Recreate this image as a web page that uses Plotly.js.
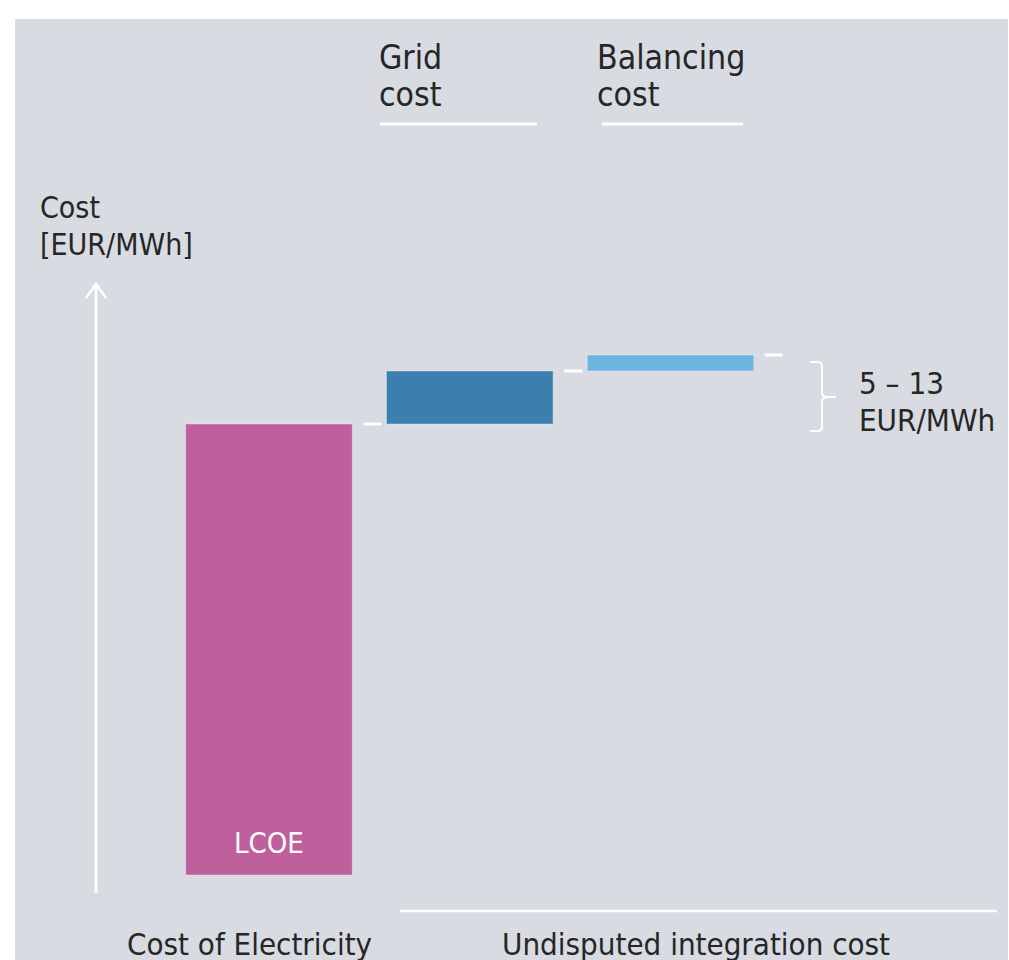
<!DOCTYPE html>
<html>
<head>
<meta charset="utf-8">
<script src="https://cdn.plot.ly/plotly-3.0.1.min.js"></script>
<style>
  html, body { margin: 0; padding: 0; background: #ffffff; }
  #chart { width: 1009px; height: 960px; }
</style>
</head>
<body>
<div id="chart"></div>
<script>
// Cost build-up: generation cost plus the integration cost components
const categories = ['LCOE', 'Grid cost', 'Balancing cost'];
const costValues = [85, 10, 3];            // EUR/MWh
const barColors = ['#bf5f9b', '#3b7fae', '#6cb5e0'];
const rangeLabelLines = ['5 \u2013 13', 'EUR/MWh'];
const yAxisLabelLines = ['Cost', '[EUR/MWh]'];
const groupLabels = ['Cost of Electricity', 'Undisputed integration cost'];
const componentLabelLines = [['Grid', 'cost'], ['Balancing', 'cost']];

// Stacked (floating) bars: each bar starts where the previous one ends
const bases = [];
let running = 0;
costValues.forEach(v => { bases.push(running); running += v; });
const tops = costValues.map((v, i) => bases[i] + v);

const W = 1009, H = 960;
const M = { l: 15, t: 19, r: 1, b: 0 };
const plotW = W - M.l - M.r, plotH = H - M.t - M.b;
// pixel -> paper helpers for the decorative elements
const px = x => (x - M.l) / plotW;
const py = y => 1 - (y - M.t) / plotH;

const FONT = 'DejaVu Sans Condensed, DejaVu Sans, sans-serif';
const TXT = '#262626';
const WHITE = '#ffffff';
const BAR_W = 0.83;

const bars = {
  type: 'bar',
  x: categories,
  y: costValues,
  base: bases,
  width: BAR_W,
  marker: { color: barColors, line: { color: 'rgba(255,255,255,0.35)', width: 1 } },
  hoverinfo: 'x+y',
  showlegend: false
};

const shapes = [];
const annotations = [];

// short white level markers to the right of each bar
tops.forEach((t, i) => {
  const x0 = i + BAR_W / 2 + 0.055;
  shapes.push({ type: 'line', xref: 'x', yref: 'y', x0: x0, x1: x0 + 0.09, y0: t, y1: t,
    line: { color: WHITE, width: 3 } });
});

// vertical axis arrow
shapes.push({ type: 'line', xref: 'paper', yref: 'paper', x0: px(96), x1: px(96), y0: py(893), y1: py(284),
  line: { color: WHITE, width: 3 } });
shapes.push({ type: 'path', xref: 'paper', yref: 'paper',
  path: `M ${px(86)},${py(298)} L ${px(96)},${py(284)} L ${px(106)},${py(298)}`,
  line: { color: WHITE, width: 2.5 } });

// underlines below the component headers
shapes.push({ type: 'line', xref: 'paper', yref: 'paper', x0: px(380), x1: px(537), y0: py(124), y1: py(124),
  line: { color: WHITE, width: 3 } });
shapes.push({ type: 'line', xref: 'paper', yref: 'paper', x0: px(602), x1: px(743), y0: py(124), y1: py(124),
  line: { color: WHITE, width: 3 } });

// baseline under the integration-cost group
shapes.push({ type: 'line', xref: 'paper', yref: 'paper', x0: px(400), x1: px(997), y0: py(911), y1: py(911),
  line: { color: WHITE, width: 2.5 } });

// curly brace spanning the integration cost
const bx = 822, btop = 362, bbot = 431, bmid = 397;
shapes.push({ type: 'path', xref: 'paper', yref: 'paper',
  path: `M ${px(810)},${py(btop)} L ${px(bx - 4)},${py(btop)} Q ${px(bx)},${py(btop)} ${px(bx)},${py(btop + 5)}` +
        ` L ${px(bx)},${py(bmid - 5)} Q ${px(bx)},${py(bmid)} ${px(bx + 6)},${py(bmid)} L ${px(bx + 14)},${py(bmid)}` +
        ` M ${px(bx + 6)},${py(bmid)} Q ${px(bx)},${py(bmid)} ${px(bx)},${py(bmid + 5)}` +
        ` L ${px(bx)},${py(bbot - 5)} Q ${px(bx)},${py(bbot)} ${px(bx - 4)},${py(bbot)} L ${px(810)},${py(bbot)}`,
  line: { color: WHITE, width: 2 } });

const txt = (text, x, y, size, opts = {}) => Object.assign({
  text: text, xref: 'paper', yref: 'paper', x: px(x), y: py(y),
  xanchor: 'left', yanchor: 'middle', align: 'left', showarrow: false,
  font: { family: FONT, size: size, color: TXT }
}, opts);

// stacked two-line labels with a fixed line pitch
const lines = (arr, x, yFirst, pitch, size) =>
  arr.forEach((s, k) => annotations.push(txt(s, x, yFirst + k * pitch, size)));

lines(componentLabelLines[0], 377, 57, 38, 33.5);
lines(componentLabelLines[1], 595, 57, 38, 33.5);
lines(yAxisLabelLines, 38, 208, 36, 30);
lines(rangeLabelLines, 857, 383, 37, 31);
annotations.push(txt(groupLabels[0], 249, 944, 31, { xanchor: 'center', align: 'center' }));
annotations.push(txt(groupLabels[1], 696, 944, 31, { xanchor: 'center', align: 'center' }));

// bar label inside the LCOE bar, near its foot
annotations.push({
  text: categories[0], xref: 'x', yref: 'y', x: categories[0], y: bases[0],
  yanchor: 'bottom', yshift: 13, showarrow: false,
  font: { family: FONT, size: 29, color: WHITE }
});

const layout = {
  width: W, height: H,
  margin: M,
  paper_bgcolor: '#ffffff',
  plot_bgcolor: '#d8dbe2',
  xaxis: { type: 'category', range: [-1.2653, 3.681], visible: false, fixedrange: true },
  yaxis: { range: [-16.02, 161.33], visible: false, fixedrange: true },
  shapes: shapes,
  annotations: annotations,
  bargap: 0
};

Plotly.newPlot('chart', [bars], layout, { displayModeBar: false, staticPlot: true });
</script>
</body>
</html>
